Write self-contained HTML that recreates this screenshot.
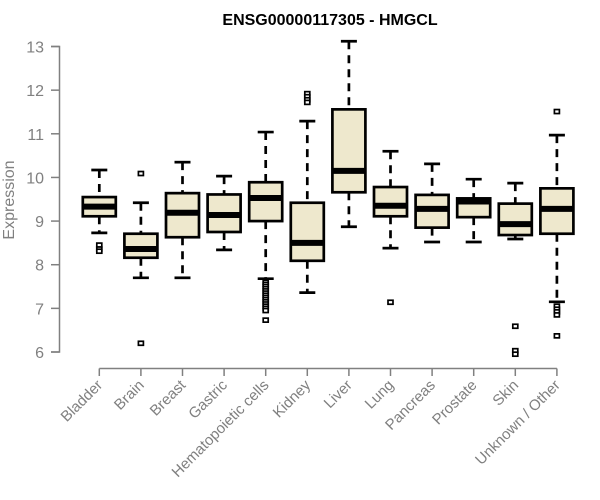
<!DOCTYPE html>
<html><head><meta charset="utf-8"><style>
body{margin:0;background:#fff}
svg{display:block;font-family:"Liberation Sans",Arial,sans-serif}
</style></head><body>
<svg id="c" width="600" height="500">
<text x="330" y="25" text-anchor="middle" font-weight="bold" font-size="16">ENSG00000117305 - HMGCL</text>
<text transform="translate(14,200) rotate(-90)" text-anchor="middle" font-size="16" fill="#808080">Expression</text>
</svg>
<script>
const categories=["Bladder","Brain","Breast","Gastric","Hematopoietic cells","Kidney","Liver","Lung","Pancreas","Prostate","Skin","Unknown / Other"];
const whiskerLow=[8.73,7.70,7.70,8.34,7.68,7.36,8.87,8.38,8.52,8.52,8.59,7.15];
const q1=[9.11,8.16,8.63,8.75,9.00,8.09,9.66,9.11,8.85,9.09,8.68,8.71];
const median=[9.33,8.36,9.19,9.14,9.53,8.50,10.15,9.35,9.28,9.45,8.93,9.28];
const q3=[9.55,8.71,9.64,9.61,9.89,9.42,11.56,9.78,9.60,9.52,9.40,9.75];
const whiskerHigh=[10.17,9.42,10.35,10.03,11.04,11.29,13.12,10.60,10.31,9.96,9.87,10.97];
const outliers=[[8.45,8.36,8.31],[10.09,6.20],[],[],[7.60,7.55,7.5,7.45,7.4,7.35,7.3,7.25,7.2,7.15,7.1,7.05,7.0,6.95,6.73],[11.92,11.85,11.78,11.72],[],[7.14],[],[],[6.59,6.03,5.95],[11.51,7.05,6.98,6.92,6.85,6.37]];
const yTicks=[6,7,8,9,10,11,12,13];
const svg=document.getElementById('c');const NS='http://www.w3.org/2000/svg';
const y=v=>352-(v-6)*43.64;
const x=i=>99.3+i*41.6;
function mk(t,a,p){const e=document.createElementNS(NS,t);for(const k in a)e.setAttribute(k,a[k]);(p||svg).appendChild(e);return e;}
let ax=mk('path',{d:`M51,${y(13)}H59.5V${y(6)}H51`,stroke:'#808080',fill:'none','stroke-width':1.5});


yTicks.forEach(t=>{let l=mk('line',{x1:51,x2:59.5,y1:y(t),y2:y(t),stroke:'#808080','stroke-width':1.5});


let tx=mk('text',{x:44,y:y(t)+6,'text-anchor':'end','font-size':16,fill:'#808080'});tx.textContent=t;

});
let xa=mk('line',{x1:x(0),x2:x(11),y1:368.5,y2:368.5,stroke:'#808080','stroke-width':1.5});


categories.forEach((c,i)=>{const cx=x(i),w=16.5;
let tk=mk('line',{x1:cx,x2:cx,y1:368.5,y2:376,stroke:'#808080','stroke-width':1.5});


let lb=mk('text',{transform:`translate(${cx+4},${386}) rotate(-45)`,'text-anchor':'end','font-size':15,fill:'#808080'});lb.textContent=c;


const g=mk('g',{});


mk('line',{x1:cx,x2:cx,y1:y(whiskerHigh[i]),y2:y(q3[i]),stroke:'#000','stroke-width':2.7,'stroke-dasharray':'8,6'},g);
mk('line',{x1:cx,x2:cx,y1:y(q1[i]),y2:y(whiskerLow[i]),stroke:'#000','stroke-width':2.7,'stroke-dasharray':'8,6'},g);
mk('line',{x1:cx-8,x2:cx+8,y1:y(whiskerHigh[i]),y2:y(whiskerHigh[i]),stroke:'#000','stroke-width':2.7},g);
mk('line',{x1:cx-8,x2:cx+8,y1:y(whiskerLow[i]),y2:y(whiskerLow[i]),stroke:'#000','stroke-width':2.7},g);
mk('rect',{x:cx-w,y:y(q3[i]),width:2*w,height:y(q1[i])-y(q3[i]),fill:'#EEE8CD',stroke:'#000','stroke-width':2.7},g);
mk('line',{x1:cx-w,x2:cx+w,y1:y(median[i]),y2:y(median[i]),stroke:'#000','stroke-width':6},g);
outliers[i].forEach(o=>{mk('rect',{x:cx-2.5,y:y(o)-2,width:5,height:4,fill:'#fff',stroke:'#000','stroke-width':1.7},g);});
});
</script>
</body></html>
